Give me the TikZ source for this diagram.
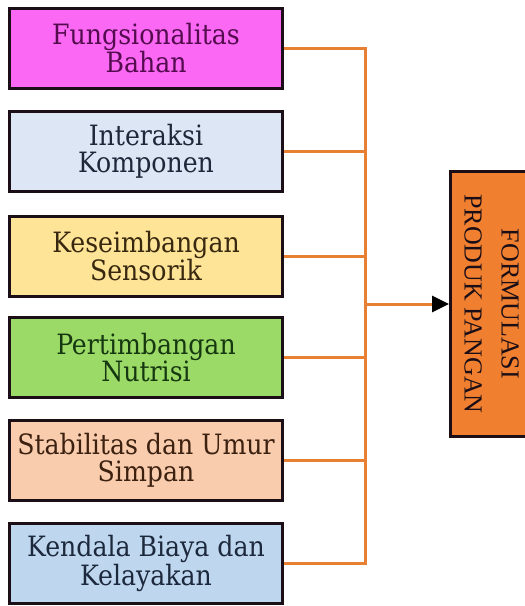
\documentclass[tikz,border=0pt]{standalone}
\usepackage{fontspec}
\setmainfont{DejaVu Serif Condensed}
\newfontfamily\titlefont{Liberation Serif}
\usetikzlibrary{arrows.meta}

% fills and inks
\definecolor{boxline}{RGB}{28,14,22}
\definecolor{linkorange}{RGB}{232,128,52}
\definecolor{outfill}{RGB}{240,128,48}
\definecolor{fillA}{RGB}{250,104,244}
\definecolor{fillB}{RGB}{220,230,244}
\definecolor{fillC}{RGB}{254,228,150}
\definecolor{fillD}{RGB}{156,218,104}
\definecolor{fillE}{RGB}{248,204,172}
\definecolor{fillF}{RGB}{190,215,238}
\definecolor{inkA}{RGB}{84,12,78}
\definecolor{inkB}{RGB}{30,40,58}
\definecolor{inkC}{RGB}{56,40,16}
\definecolor{inkD}{RGB}{22,56,16}
\definecolor{inkE}{RGB}{60,32,16}
\definecolor{inkF}{RGB}{28,40,60}

\begin{document}
\begin{tikzpicture}[x=1pt,y=-1pt,
  factor/.style={draw=boxline, line width=3pt, minimum width=273pt,
    minimum height=80pt, inner sep=0pt, align=center,
    font=\fontsize{28}{27}\selectfont},
  result/.style={draw=boxline, line width=3pt, fill=outfill, rotate=-90,
    minimum width=265pt, minimum height=82pt, inner sep=0pt, align=center,
    text=boxline, font=\titlefont\fontsize{26}{37}\selectfont},
  conn/.style={draw=linkorange, line width=3pt}]
\useasboundingbox (0,0) rectangle (525,606);
\clip (0,0) rectangle (525,606);

% input factors
\node[factor, fill=fillA, text=inkA] (b1) at (146,48)    {Fungsionalitas\\Bahan};
\node[factor, fill=fillB, text=inkB] (b2) at (146,151.5) {Interaksi\\Komponen};
\node[factor, fill=fillC, text=inkC] (b3) at (146,256)   {Keseimbangan\\Sensorik};
\node[factor, fill=fillD, text=inkD] (b4) at (146,357.5) {Pertimbangan\\Nutrisi};
\node[factor, fill=fillE, text=inkE] (b5) at (146,460.5) {Stabilitas dan Umur\\Simpan};
\node[factor, fill=fillF, text=inkF] (b6) at (146,563.5) {Kendala Biaya dan\\Kelayakan};

% target box (text runs top to bottom)
\node[result] (out) at (491.5,304) {FORMULASI\\PRODUK PANGAN};

% collecting bus
\coordinate (bus) at (365,304);
\draw[conn] (b1.east) -| (bus |- b6.east) -- (b6.east);
\foreach \b in {b2,b3,b4,b5}
  \draw[conn] (\b.east) -- (bus |- \b.east);
\draw[conn, -{Triangle[length=17pt,width=16pt,black]}] (bus |- out.south) -- (out.south);
\end{tikzpicture}
\end{document}
